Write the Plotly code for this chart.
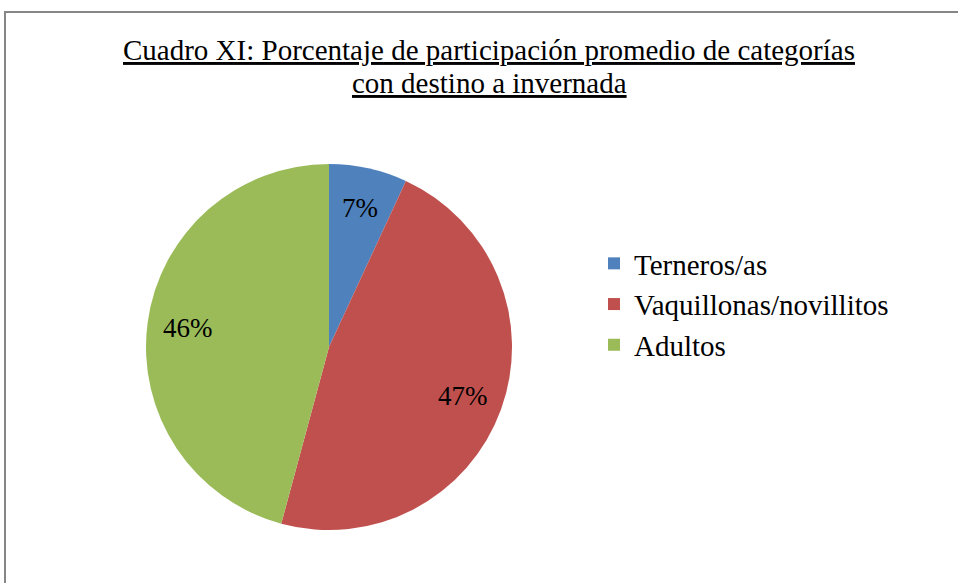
import math
import plotly.graph_objects as go

categories = ["Terneros/as", "Vaquillonas/novillitos", "Adultos"]
values = [6.9, 47.3, 45.8]
colors = ["#4F81BD", "#C0504D", "#9BBB59"]
title_lines = ["Cuadro XI: Porcentaje de participación promedio de categorías",
               "con destino a invernada"]

W, H = 958, 583
FONT = "Liberation Serif, Times New Roman, serif"

# pie geometry (paper fractions)
cx, cy = 329 / W, 1 - 347 / H
r_px = 183
dom_x = [cx - r_px / W, cx + r_px / W]
dom_y = [cy - r_px / H, cy + r_px / H]

fig = go.Figure()
fig.add_trace(go.Pie(
    labels=categories, values=values, sort=False, direction="clockwise", rotation=0,
    marker=dict(colors=colors, line=dict(width=0)),
    textinfo="none", hoverinfo="label+percent",
    domain=dict(x=dom_x, y=dom_y),
))

# percentage labels placed along each slice's mid-angle
total = sum(values)
cum = 0.0
annotations = []
for v in values:
    mid = (cum + v / 2) / total * 2 * math.pi
    cum += v
    rr = 0.78 * r_px
    ax = cx + rr * math.sin(mid) / W
    ay = cy + rr * math.cos(mid) / H
    annotations.append(dict(
        x=ax, y=ay, xref="paper", yref="paper", showarrow=False,
        text=f"{round(v / total * 100)}%",
        font=dict(family=FONT, size=27, color="#000000"),
        xanchor="center", yanchor="middle",
    ))

# title lines
for i, line in enumerate(title_lines):
    annotations.append(dict(
        x=489 / W, y=1 - (50 + 33 * i) / H, xref="paper", yref="paper",
        showarrow=False, text=f"<u>{line}</u>",
        font=dict(family=FONT, size=29, color="#000000"),
        xanchor="center", yanchor="middle",
    ))

fig.update_layout(
    width=W, height=H, autosize=False,
    margin=dict(l=0, r=0, t=0, b=0),
    paper_bgcolor="white", plot_bgcolor="white",
    legend=dict(
        x=594 / W, xanchor="left", y=1 - 238 / H, yanchor="top",
        font=dict(family=FONT, size=29, color="#000000"),
        bgcolor="rgba(0,0,0,0)",
    ),
    annotations=annotations,
    shapes=[dict(type="rect", xref="paper", yref="paper",
                 x0=5 / W, x1=1.05, y0=-0.05, y1=1 - 12 / H,
                 line=dict(color="#868686", width=2), fillcolor="rgba(0,0,0,0)")],
)

fig.write_html("out.html", config={"displayModeBar": False},
               post_script="document.body.style.margin='0';")
